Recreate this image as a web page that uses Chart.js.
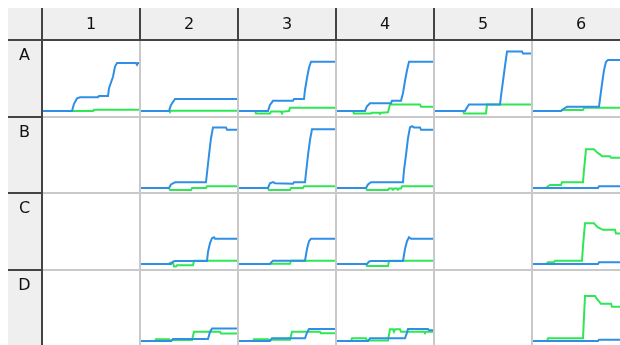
<!DOCTYPE html>
<html>
<head>
<meta charset="utf-8">
<script src="https://cdn.jsdelivr.net/npm/chart.js@4.4.1/dist/chart.umd.min.js"></script>
<style>
body{margin:0;background:#fff;overflow:hidden;width:620px;height:345px;font-family:"DejaVu Sans",sans-serif;}
#grid{position:absolute;left:0;top:0;width:640px;height:360px;}
#grid div{position:absolute;}
.lbl{font-size:16px;color:#111;text-align:center;line-height:32px;}
canvas{position:absolute;}
</style>
</head>
<body>
<div id="grid"></div>
<script>
// plate layout
const colLabels = ['1','2','3','4','5','6'];
const rowLabels = ['A','B','C','D'];

// traces, [time, signal]
const blueA1 = [[0,0],[30,0],[32,12],[35,21],[38,23],[56,23],[57,25],[66,25],[67,38],[71,57],[73,74],[75,80],[94,80],[95,77],[96,80],[98,80]];
const greenA1 = [[0,0],[51,0],[52,2],[98,2]];
const blueA2 = [[0,0],[29,0],[31,10],[35,20],[98,20]];
const greenA2 = [[0,0],[29,0],[30,-2],[31,0.5],[98,0.5]];
const blueA3 = [[0,0],[30,0],[32,10],[35,17],[55,17],[56,20],[66,20],[67,35],[69,55],[71,72],[73,82],[98,82]];
const greenA3 = [[0,0],[17,0],[18,-4],[32,-4],[33,-1],[43,-1],[44,-4],[45,-1],[51,0],[52,5.5],[98,5.5]];
const blueA4 = [[0,0],[29,0],[31,8],[34,13],[55,13],[56,17],[65,17],[67,30],[69,50],[71,68],[73,82],[98,82]];
const greenA4 = [[0,0],[17,0],[18,-4],[35,-4],[36,-3],[43,-3],[44,-5],[45,-3],[52,-2],[54,11],[84,11],[85,7],[98,7]];
const blueA5 = [[0,0],[31,0],[33,6],[35,11],[66,11],[67,25],[69,50],[71,75],[73,99],[88,99],[89,96],[98,96]];
const greenA5 = [[0,0],[29,0],[30,-4],[52,-4],[53,11],[98,11]];
const blueA6 = [[0,0],[29,0],[31,3],[33,5],[35,7],[67,7],[68,20],[70,45],[72,68],[74,82],[76,85],[98,85]];
const greenA6 = [[0,0],[29,0],[30,1.5],[51,1.5],[52,5.5],[98,5.5]];

const blueB2 = [[0,0],[29,0],[31,6],[35,9.5],[66,9.5],[67,25],[69,55],[71,83],[73,101],[86,101],[87,97],[98,97]];
const greenB2 = [[0,0],[29,0],[30,-3.5],[51,-3.5],[52,0],[66,0],[67,3],[98,3]];
const blueB3 = [[0,0],[30,0],[32,8],[35,10],[37,8],[55,7],[56,9.5],[67,9.5],[68,25],[70,55],[72,80],[74,98],[98,98]];
const greenB3 = [[0,0],[30,0],[31,-3.5],[52,-3.5],[53,0],[65,0],[66,3],[98,3]];
const blueB4 = [[0,0],[30,0],[32,6],[35,9.5],[67,9.5],[68,30],[70,55],[72,83],[74,101],[76,103],[78,101],[84,101],[85,97],[98,97]];
const greenB4 = [[0,0],[30,0],[31,-3.5],[52,-3.5],[53,-1],[56,-1],[57,-3],[58,-1],[61,-1],[62,-3],[63,-1],[65,-1],[66,3],[98,3]];
const blueB6 = [[0,0],[66,0],[67,3],[98,3]];
const greenB6 = [[0,0],[14,0],[16,3],[18,5],[29,5],[30,9.5],[51,9.5],[52,30],[54,64.5],[62,64.5],[64,61],[66,58],[68,56],[70,53],[78,53],[79,50.5],[98,50.5]];

const blueC2 = [[0,0],[31,0],[33,4],[35,5],[67,5],[68,20],[70,35],[72,43],[74,44.5],[75,42],[98,42]];
const greenC2 = [[0,0],[29,0],[30,2],[33,2],[34,-4],[36,-4],[37,-2],[53,-2],[54,5.5],[98,5.5]];
const blueC3 = [[0,0],[32,0],[34,4],[35,5.5],[67,5.5],[69,25],[71,38],[73,42],[98,42]];
const greenC3 = [[0,0],[30,0],[31,0.5],[52,0.5],[53,5.5],[98,5.5]];
const blueC4 = [[0,0],[31,0],[33,4],[35,5],[67,5],[69,25],[71,38],[73,44.5],[75,42],[98,42]];
const greenC4 = [[0,0],[30,0],[31,-3.5],[52,-3.5],[53,5.5],[98,5.5]];
const blueC6 = [[0,0],[66,0],[67,3],[98,3]];
const greenC6 = [[0,0],[14,0],[16,3],[22,3],[23,5.5],[50,5.5],[51,30],[53,68],[62,68],[64,64],[66,61],[68,59.5],[71,57],[83,57],[84,51],[98,51]];

const blueD2 = [[0,0],[31,0],[33,3.3],[68,3.3],[70,15],[72,21],[98,21]];
const greenD2 = [[0,0],[15,0],[16,3],[29,3],[30,0],[33,1.7],[52,1.7],[54,15.5],[80,15.5],[81,12.5],[98,12.5]];
const blueD3 = [[0,0],[32,0],[34,4.4],[67,4.4],[69,14],[71,20],[98,20]];
const greenD3 = [[0,0],[15,0],[16,3],[30,3],[31,2],[52,2],[54,15.5],[82,15.5],[83,12.8],[98,12.8]];
const blueD4 = [[0,0],[32,0],[34,4.4],[69,4.4],[71,14],[72,20],[92,20],[93,18],[98,18]];
const greenD4 = [[0,0],[15,0],[16,4.4],[30,4.4],[31,1],[52,1],[54,19.5],[57,19.5],[58,15.5],[59,19.5],[64,19.5],[65,15.5],[88,15.5],[89,13],[90,15.5],[98,15.5]];
const blueD6 = [[0,0],[66,0],[67,2.2],[98,2.2]];
const greenD6 = [[0,0],[15,0],[16,4.5],[51,4.5],[52,40],[53,75],[63,75],[65,70],[67,66],[69,62],[79,62],[80,57],[98,57]];

const wells = [
  ['A1',blueA1,greenA1],['A2',blueA2,greenA2],['A3',blueA3,greenA3],['A4',blueA4,greenA4],['A5',blueA5,greenA5],['A6',blueA6,greenA6],
  ['B2',blueB2,greenB2],['B3',blueB3,greenB3],['B4',blueB4,greenB4],['B6',blueB6,greenB6],
  ['C2',blueC2,greenC2],['C3',blueC3,greenC3],['C4',blueC4,greenC4],['C6',blueC6,greenC6],
  ['D2',blueD2,greenD2],['D3',blueD3,greenD3],['D4',blueD4,greenD4],['D6',blueD6,greenD6]
];

const BLUE = '#2f8fe6', GREEN = '#2fe654';
const DARK = '#444', LIGHT = '#c9c9c9', HEAD = '#efefef';
const colX = [42,140,238,336,434,532,630];
const rowY = [40,117,193,270,347];
const grid = document.getElementById('grid');

function box(x, y, w, h, bg, cls) {
  const d = document.createElement('div');
  d.style.cssText = `left:${x}px;top:${y}px;width:${w}px;height:${h}px;background:${bg};`;
  if (cls) d.className = cls;
  grid.appendChild(d);
  return d;
}

// header row + label column
box(8, 8, 640, 32, HEAD);
box(8, 8, 34, 360, HEAD);

// charts
wells.forEach(([id, blue, green]) => {
  const r = rowLabels.indexOf(id[0]), c = colLabels.indexOf(id.slice(1));
  const cv = document.createElement('canvas');
  cv.width = 96; cv.height = 75;
  cv.style.left = (colX[c] + 1) + 'px';
  cv.style.top = (rowY[r] + 1) + 'px';
  grid.appendChild(cv);
  new Chart(cv, {
    type: 'line',
    data: {
      datasets: [
        { data: blue.map(p => ({x: p[0], y: p[1]})), borderColor: BLUE, borderWidth: 2, pointRadius: 0, tension: 0 },
        { data: green.map(p => ({x: p[0], y: p[1]})), borderColor: GREEN, borderWidth: 2, pointRadius: 0, tension: 0 }
      ]
    },
    options: {
      responsive: false, animation: false, events: [],
      layout: { padding: 0 },
      plugins: { legend: { display: false }, tooltip: { enabled: false } },
      scales: {
        x: { type: 'linear', display: false, min: 1, max: 97 },
        y: { display: false, min: -8.33, max: 116.67 }
      }
    }
  });
});

// light grid in the data area
colX.slice(1).forEach(x => box(x - 1, 40, 2, 320, LIGHT));
rowY.slice(1, 4).forEach(y => box(42, y - 1, 600, 2, LIGHT));

// dark lines in header and label column
colX.forEach(x => box(x - 1, 8, 2, 32, DARK));
box(41, 8, 2, 360, DARK);
box(8, 39, 640, 2, DARK);
rowY.slice(1, 4).forEach(y => box(8, y - 1, 34, 2, DARK));

// labels
colLabels.forEach((t, i) => { box(colX[i], 8, 98, 32, 'transparent', 'lbl').textContent = t; });
rowLabels.forEach((t, i) => {
  const d = box(8, rowY[i] + 1, 33, 30, 'transparent', 'lbl');
  d.style.lineHeight = '28px';
  d.textContent = t;
});
</script>
</body>
</html>
